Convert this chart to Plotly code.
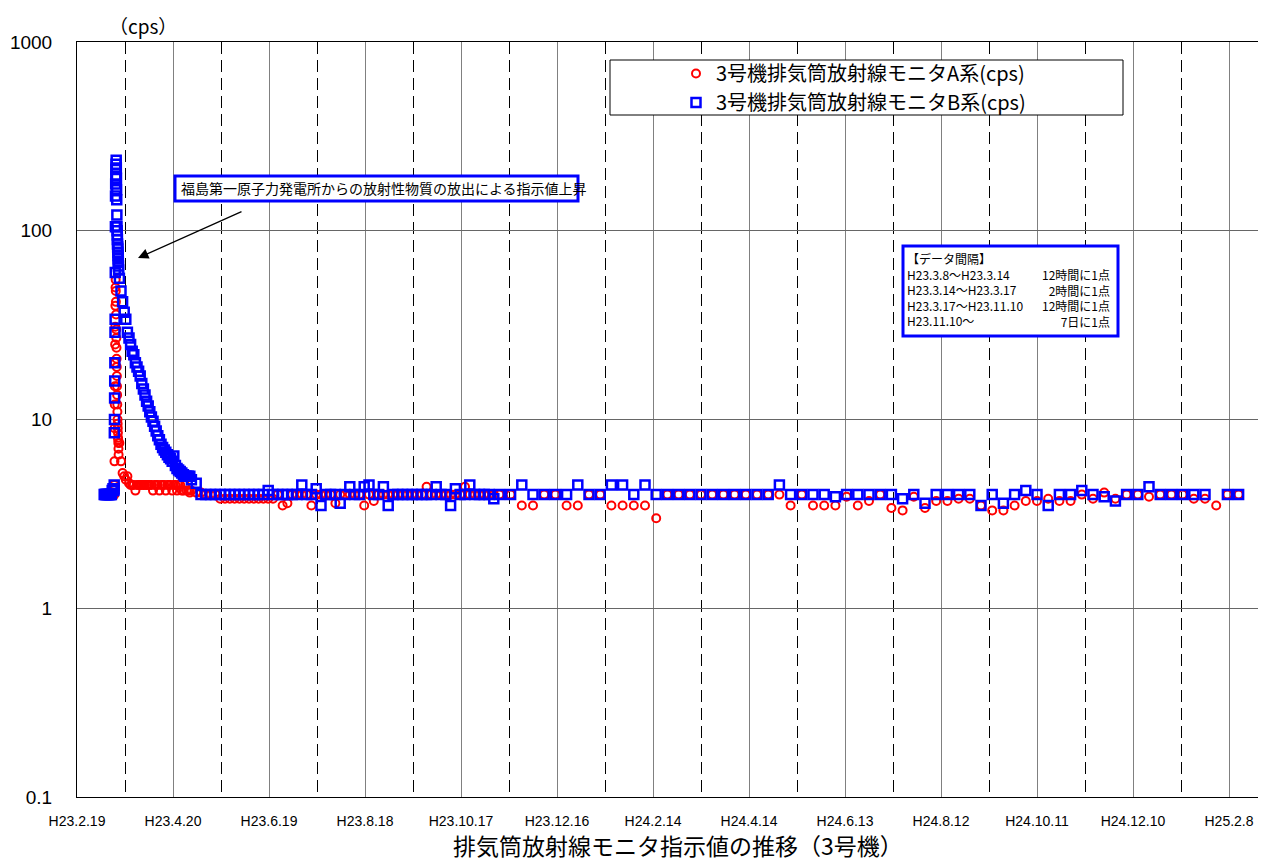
import pandas as pd
import plotly.graph_objects as go

JP = "Noto Sans CJK JP"
NUM = "Liberation Sans Narrow, Liberation Sans, Arial"

# ---- data -------------------------------------------------------------
# H23.3.8 - H23.3.14 : every 12 hours
seg1_start, seg1_step = "2011-03-08 00:00", "12h"
seg1_a = [4.0, 4.0, 4.0, 4.0, 4.0, 4.0, 4.0, 4.0, 4.0, 4.0, 4.0, 4.0, 4.0]
seg1_b = [4.0, 4.0, 4.0, 4.0, 4.0, 4.0, 4.0, 4.0, 4.0, 4.0, 4.2, 4.3, 4.3]

# H23.3.14 - H23.3.17 : every 2 hours
seg2_start, seg2_step = "2011-03-14 02:00", "2h"
seg2_a = [4.0, 4.0, 4.0, 4.5, 6.0, 9.0, 12, 15, 20, 25, 31, 40,
          50, 55, 48, 42, 36, 30, 27, 24, 21, 19, 17, 15,
          13.5, 12, 11, 10, 9.5, 9.0, 8.5, 8.0, 7.8, 7.5, 7.0, 6.5]
seg2_b = [4.2, 4.3, 4.5, 8.5, 10, 13, 16, 20, 29, 34, 60, 105,
          153, 177, 195, 211, 225, 236, 215, 190, 165, 146, 121, 105,
          100, 95, 90, 85, 82, 80, 77, 74, 71, 68, 65, 62]

# H23.3.17 - H23.5.1 : decay (read once per day)
seg3_start, seg3_step = "2011-03-17 12:00", "1D"
seg3_a = [7.5, 6.0, 5.2, 5.0, 4.8, 5.0, 4.6, 4.5, 4.5, 4.5, 4.2, 4.5, 4.5, 4.5, 4.5,
          4.5, 4.5, 4.5, 4.5, 4.5, 4.5, 4.2, 4.5, 4.5, 4.5, 4.2, 4.5, 4.5, 4.5, 4.2,
          4.5, 4.5, 4.5, 4.2, 4.5, 4.5, 4.2, 4.5, 4.5, 4.2, 4.2, 4.5, 4.2, 4.2, 4.1]
seg3_b = [56, 48, 42, 37, 34, 29, 27, 25, 23, 22, 20, 19, 18, 17, 15.5,
          14.5, 13.5, 12.5, 11.8, 11, 10.3, 9.8, 9.2, 8.7, 8.2, 7.8, 7.4, 7.1, 6.9, 6.7,
          6.5, 6.3, 6.2, 6.0, 6.4, 5.7, 5.5, 5.4, 5.3, 5.2, 5.1, 5.0, 5.0, 5.0, 5.0]

# H23.5.1 - H23.11.10 : flat period (read every 3 days)
seg4_start, seg4_step = "2011-05-01 12:00", "3D"
seg4_a = [4.2, 4.1, 4.1, 4.0, 4.0, 4.0, 3.8, 3.8, 3.8, 3.8, 3.8, 3.8, 3.8, 3.8, 3.8, 3.8,
          3.8, 3.8, 4.0, 3.5, 3.6, 4.0, 4.0, 4.0, 4.0, 3.5, 4.0, 4.0, 4.0, 4.0, 3.6, 4.0,
          4.0, 4.0, 4.0, 4.0, 3.5, 4.0, 3.7, 4.0, 4.0, 4.0, 4.0, 4.0, 4.0, 4.0, 4.0, 4.0,
          4.0, 4.4, 4.0, 4.0, 4.0, 4.0, 4.0, 4.0, 4.0, 4.4, 4.0, 4.0, 4.0, 4.0, 4.0, 4.0]
seg4_b = [4.8, 4.6, 4.0, 4.0, 4.0, 4.0, 4.0, 4.0, 4.0, 4.0, 4.0, 4.0, 4.0, 4.0, 4.0, 4.0,
          4.2, 4.0, 4.0, 4.0, 4.0, 4.0, 4.0, 4.5, 4.0, 4.0, 4.3, 3.5, 4.0, 4.0, 4.0, 3.6,
          4.0, 4.4, 4.0, 4.0, 4.4, 4.5, 4.0, 4.0, 4.4, 3.5, 4.0, 4.0, 4.0, 4.0, 4.0, 4.0,
          4.0, 4.0, 4.0, 4.4, 4.0, 4.0, 3.5, 4.3, 4.0, 4.0, 4.5, 4.0, 4.0, 4.0, 4.0, 3.8]

# H23.11.10 - : weekly
seg5_start, seg5_step = "2011-11-10 00:00", "7D"
seg5_a = [4.0, 4.0, 3.5, 3.5, 4.0, 4.0, 3.5, 3.5, 4.0, 4.0,
          3.5, 3.5, 3.5, 3.5, 3.0, 4.0, 4.0, 4.0, 4.0, 4.0,
          4.0, 4.0, 4.0, 4.0, 4.0, 4.0, 3.5, 4.0, 3.5, 3.5,
          3.5, 3.9, 3.5, 3.7, 4.0, 3.4, 3.3, 3.9, 3.4, 3.7,
          3.7, 3.8, 3.8, 3.5, 3.3, 3.3, 3.5, 3.7, 3.7, 3.8,
          3.7, 3.7, 4.0, 3.8, 4.1, 3.8, 4.0, 4.0, 3.9, 4.0,
          4.0, 4.0, 3.8, 3.8, 3.5, 4.0, 4.0]
seg5_b = [4.0, 4.0, 4.5, 4.0, 4.0, 4.0, 4.0, 4.5, 4.0, 4.0,
          4.5, 4.5, 4.0, 4.5, 4.0, 4.0, 4.0, 4.0, 4.0, 4.0,
          4.0, 4.0, 4.0, 4.0, 4.0, 4.5, 4.0, 4.0, 4.0, 4.0,
          3.9, 4.0, 4.0, 4.0, 4.0, 4.0, 3.8, 4.0, 3.6, 4.0,
          4.0, 4.0, 4.0, 3.5, 4.0, 3.6, 4.0, 4.2, 4.0, 3.5,
          4.0, 4.0, 4.2, 4.0, 3.9, 3.7, 4.0, 4.0, 4.4, 4.0,
          4.0, 4.0, 4.0, 4.0, None, 4.0, 4.0]

tick_dates = ["2011-02-19", "2011-04-20", "2011-06-19", "2011-08-18", "2011-10-17",
              "2011-12-16", "2012-02-14", "2012-04-14", "2012-06-13", "2012-08-12",
              "2012-10-11", "2012-12-10", "2013-02-08"]
tick_labels = ["H23.2.19", "H23.4.20", "H23.6.19", "H23.8.18", "H23.10.17",
               "H23.12.16", "H24.2.14", "H24.4.14", "H24.6.13", "H24.8.12",
               "H24.10.11", "H24.12.10", "H25.2.8"]
mid_dates = ["2011-03-21", "2011-05-20", "2011-07-19", "2011-09-17", "2011-11-16",
             "2012-01-15", "2012-03-15", "2012-05-14", "2012-07-13", "2012-09-11",
             "2012-11-10", "2013-01-09"]
y_ticks = [0.1, 1, 10, 100, 1000]
y_labels = ["0.1", "1", "10", "100", "1000"]

name_a = "3号機排気筒放射線モニタA系(cps)"
name_b = "3号機排気筒放射線モニタB系(cps)"

segments = [(seg1_start, seg1_step, seg1_a, seg1_b),
            (seg2_start, seg2_step, seg2_a, seg2_b),
            (seg3_start, seg3_step, seg3_a, seg3_b),
            (seg4_start, seg4_step, seg4_a, seg4_b),
            (seg5_start, seg5_step, seg5_a, seg5_b)]

dates, vals_a, vals_b = [], [], []
for start, step, a, b in segments:
    d = pd.date_range(start, periods=len(a), freq=step)
    dates += list(d)
    vals_a += a
    vals_b += b

# ---- layout helpers ----------------------------------------------------
# the page body has an 8px margin, so the figure is drawn 8px smaller and
# all positions below are given in window pixels
OFF = 8
W, H = 1266 - OFF, 861 - OFF
L, R, T, B = 77, 1259, 42, 797


def px(x):
    return (x - L) / (R - L)


def py(y):
    return (B - y) / (B - T)


fig = go.Figure()
fig.add_trace(go.Scatter(x=dates, y=vals_a, mode="markers", name=name_a,
                         marker=dict(symbol="circle-open", size=8, color="#ff0000",
                                     line=dict(width=2, color="#ff0000"))))
fig.add_trace(go.Scatter(x=dates, y=vals_b, mode="markers", name=name_b,
                         marker=dict(symbol="square-open", size=9, color="#0000ff",
                                     line=dict(width=2.5, color="#0000ff"))))

fig.update_xaxes(range=["2011-02-19", "2013-02-26 18:00"], automargin=False,
                 tickmode="array", tickvals=tick_dates, ticktext=tick_labels,
                 tickfont=dict(family=NUM, size=14, color="black"),
                 ticks="", ticklabelstandoff=11,
                 showgrid=True, gridcolor="#808080", gridwidth=1,
                 minor=dict(tickvals=mid_dates, showgrid=True, gridcolor="black",
                            griddash="12px,6px", gridwidth=1, ticks=""),
                 showline=True, mirror=True, linecolor="black", linewidth=1,
                 zeroline=False)
fig.update_yaxes(type="log", range=[-1, 3], automargin=False,
                 tickmode="array", tickvals=y_ticks, ticktext=y_labels,
                 tickfont=dict(family=NUM, size=19, color="black"),
                 ticks="inside", ticklen=8, tickcolor="#666",
                 ticklabelstandoff=20,
                 showgrid=True, gridcolor="#666", gridwidth=1,
                 showline=True, mirror=True, linecolor="black", linewidth=1,
                 zeroline=False)

shapes = [
    # legend frame
    dict(type="rect", xref="paper", yref="paper", x0=px(610), x1=px(1123), y0=py(115), y1=py(60),
         line=dict(color="black", width=1), fillcolor="white", layer="above"),
    # release note frame
    dict(type="rect", xref="paper", yref="paper", x0=px(175), x1=px(578), y0=py(201), y1=py(176),
         line=dict(color="#0000ff", width=3), fillcolor="white", layer="above"),
    # data interval frame
    dict(type="rect", xref="paper", yref="paper", x0=px(903), x1=px(1118), y0=py(336), y1=py(246),
         line=dict(color="#0000ff", width=3), fillcolor="white", layer="above"),
]

annotations = [
    dict(text="（cps）", x=px(143), y=py(25), xref="paper", yref="paper", showarrow=False,
         xanchor="center", yanchor="middle",
         font=dict(family=JP, size=19, color="black")),
    dict(text="排気筒放射線モニタ指示値の推移（3号機）", x=px(678), y=py(845),
         xref="paper", yref="paper", showarrow=False, xanchor="center", yanchor="middle",
         font=dict(family=JP, size=23, color="black")),
    dict(text="福島第一原子力発電所からの放射性物質の放出による指示値上昇",
         x=px(179), y=py(188.5), xref="paper", yref="paper", xanchor="left", yanchor="middle",
         showarrow=False, font=dict(family=JP, size=14, color="black")),
    dict(text="", x=px(138), y=py(258), xref="paper", yref="paper",
         ax=105, ay=-47, showarrow=True, arrowhead=2, arrowsize=1.6,
         arrowwidth=1.3, arrowcolor="black"),
    dict(text="【データ間隔】<br>H23.3.8～H23.3.14<br>H23.3.14～H23.3.17<br>"
              "H23.3.17～H23.11.10<br>H23.11.10～",
         x=px(905), y=py(248), xref="paper", yref="paper", xanchor="left", yanchor="top",
         align="left", showarrow=False, font=dict(family=JP, size=12, color="black")),
    dict(text="12時間に1点<br>2時間に1点<br>12時間に1点<br>7日に1点",
         x=px(1112), y=py(264), xref="paper", yref="paper", xanchor="right", yanchor="top",
         align="right", showarrow=False, font=dict(family=JP, size=12, color="black")),
]

fig.update_layout(width=W, height=H,
                  margin=dict(l=L - OFF, r=1266 - R, t=T - OFF, b=861 - B, autoexpand=False),
                  plot_bgcolor="white", paper_bgcolor="white",
                  font=dict(family=JP, color="black"),
                  showlegend=True,
                  legend=dict(x=px(676), y=py(54), xanchor="left", yanchor="top",
                              bgcolor="rgba(0,0,0,0)", borderwidth=0,
                              font=dict(family=JP, size=20, color="black"),
                              tracegroupgap=0),
                  shapes=shapes, annotations=annotations)

fig.write_html("out.html")
